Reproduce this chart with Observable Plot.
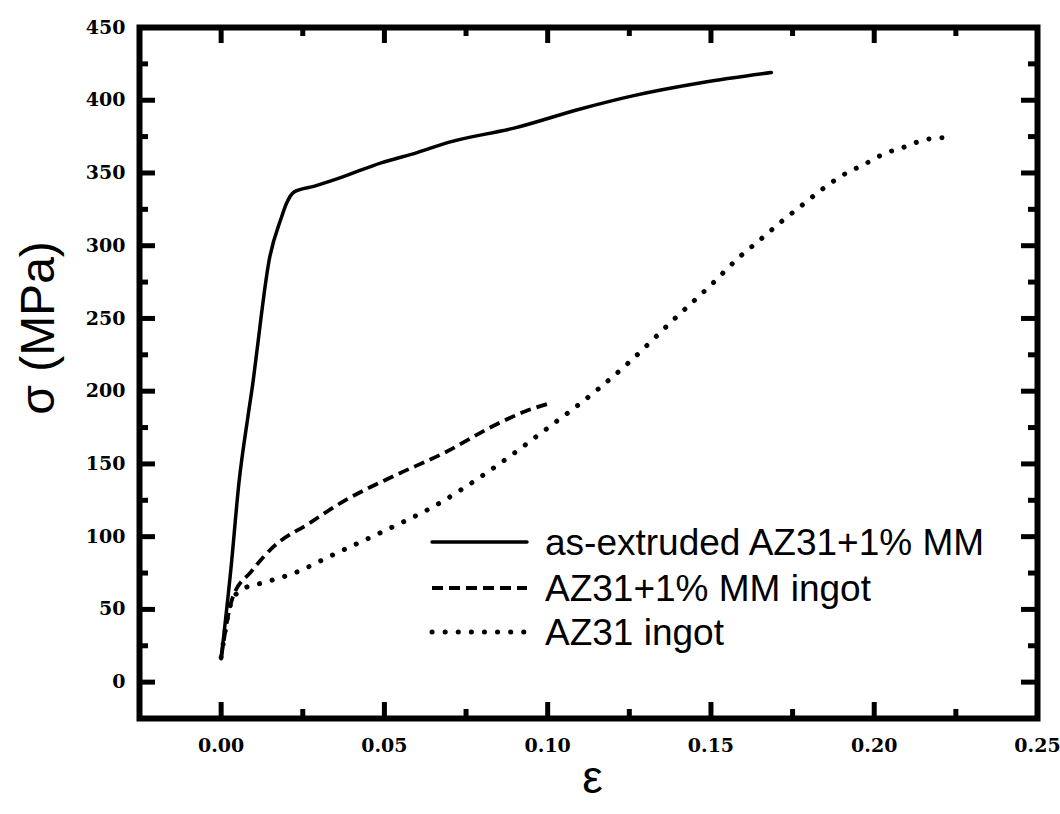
<!DOCTYPE html>
<html>
<head>
<meta charset="utf-8">
<script src="https://cdn.jsdelivr.net/npm/d3@7"></script>
<script src="https://cdn.jsdelivr.net/npm/@observablehq/plot@0.6"></script>
<style>
  html, body { margin: 0; padding: 0; background: #fff; }
  svg { display: block; }
</style>
</head>
<body>
<div id="chart"></div>
<script>
// ---- data ----
const seriesNames = ["as-extruded AZ31+1% MM", "AZ31+1% MM ingot", "AZ31 ingot"];

const extrudedStrain = [0, 0.003, 0.0055, 0.0083, 0.0098, 0.0107, 0.0147, 0.0184, 0.0200, 0.0224, 0.0286, 0.0368, 0.0490, 0.0600, 0.0696, 0.0900, 0.1100, 0.1260, 0.1470, 0.1685];
const extrudedStress = [16, 78, 138, 184, 207, 223, 290, 319, 329, 337, 341, 347, 357, 364, 371, 381, 394, 403, 412, 419];

const mmIngotStrain = [0, 0.0035, 0.0092, 0.0163, 0.0267, 0.0377, 0.0530, 0.0684, 0.0850, 0.0930, 0.1010];
const mmIngotStress = [17, 58, 76, 93.6, 108.8, 124.6, 141.8, 157.7, 178, 186, 192];

const az31IngotStrain = [0, 0.0035, 0.0075, 0.0123, 0.0224, 0.0347, 0.0500, 0.0653, 0.0807, 0.0990, 0.1156, 0.1250, 0.1380, 0.1500, 0.1586, 0.1650, 0.1718, 0.1780, 0.1840, 0.1900, 0.1970, 0.2034, 0.2095, 0.2157, 0.2230];
const az31IngotStress = [17, 57, 65, 68, 75, 88, 104, 121, 143, 173, 201.7, 220, 248, 273, 292, 304, 317, 328, 338.7, 348, 356, 363.5, 368, 373, 374.5];

const xTickValues = [0, 0.05, 0.10, 0.15, 0.20, 0.25];
const xMinorValues = [0.025, 0.075, 0.125, 0.175, 0.225];
const yTickValues = [0, 50, 100, 150, 200, 250, 300, 350, 400, 450];
const yMinorValues = [25, 75, 125, 175, 225, 275, 325, 375, 425];

const xLabel = "ε";
const yLabel = "σ (MPa)";

// ---- layout / styles ----
const W = 1060, H = 814;
const mL = 139, mR = 23, mT = 27, mB = 96;
const fw = W - mL - mR, fh = H - mT - mB;
const majorLen = 16, minorLen = 9;
const lineStyles = [
  {strokeWidth: 3.5, strokeDasharray: null, strokeLinecap: "round"},
  {strokeWidth: 3.8, strokeDasharray: "11 6", strokeLinecap: "butt"},
  {strokeWidth: 5, strokeDasharray: "0.1 13", strokeLinecap: "round"}
];

const toRows = (xs, ys) => xs.map((x, i) => ({x, y: ys[i]}));
const series = [
  toRows(extrudedStrain, extrudedStress),
  toRows(mmIngotStrain, mmIngotStress),
  toRows(az31IngotStrain, az31IngotStress)
];

const tickFont = {fontFamily: "DejaVu Serif", fontWeight: "bold", fontSize: 19};
const titleFont = "Liberation Sans";

const chart = Plot.plot({
  width: W, height: H,
  marginLeft: mL, marginRight: mR, marginTop: mT, marginBottom: mB,
  style: {background: "#fff", color: "#000", overflow: "visible"},
  x: {domain: [-0.025, 0.25]},
  y: {domain: [-25, 450]},
  marks: [
    // curves
    ...series.map((rows, i) => Plot.line(rows, {
      x: "x", y: "y", stroke: "#000", curve: "monotone-x",
      strokeLinejoin: "round", ...lineStyles[i]
    })),
    // inward ticks: left, right, bottom, top
    Plot.ruleY(yTickValues, {y: d => d, insetRight: fw - majorLen, stroke: "#000", strokeWidth: 5}),
    Plot.ruleY(yMinorValues, {y: d => d, insetRight: fw - minorLen, stroke: "#000", strokeWidth: 5}),
    Plot.ruleY(yTickValues, {y: d => d, insetLeft: fw - majorLen, stroke: "#000", strokeWidth: 5}),
    Plot.ruleY(yMinorValues, {y: d => d, insetLeft: fw - minorLen, stroke: "#000", strokeWidth: 5}),
    Plot.ruleX(xTickValues, {x: d => d, insetTop: fh - majorLen, stroke: "#000", strokeWidth: 5}),
    Plot.ruleX(xMinorValues, {x: d => d, insetTop: fh - minorLen, stroke: "#000", strokeWidth: 5}),
    Plot.ruleX(xTickValues, {x: d => d, insetBottom: fh - majorLen, stroke: "#000", strokeWidth: 5}),
    Plot.ruleX(xMinorValues, {x: d => d, insetBottom: fh - minorLen, stroke: "#000", strokeWidth: 5}),
    Plot.frame({stroke: "#000", strokeWidth: 6}),
    // tick labels
    Plot.axisX(xTickValues, {anchor: "bottom", tickSize: 0, tickPadding: 20, tickFormat: d3.format(".2f"), label: null, ...tickFont}),
    Plot.axisY(yTickValues, {anchor: "left", tickSize: 0, tickPadding: 14, tickFormat: d3.format("d"), label: null, ...tickFont}),
    // axis titles
    Plot.text([yLabel], {frameAnchor: "left", textAnchor: "middle", dx: -101, dy: -45, rotate: -90, fontSize: 48, fontFamily: titleFont, fill: "#000"}),
    Plot.text([xLabel], {frameAnchor: "bottom", textAnchor: "middle", dx: 4, dy: 74, fontSize: 46, fontFamily: titleFont, fill: "#000"})
  ]
});

document.getElementById("chart").appendChild(chart);

// ---- legend inside the plot ----
const legendX1 = 432, legendX2 = 527, legendTextX = 545;
const legendRowY = [542, 588, 632];
const svg = d3.select(chart);
const lg = svg.append("g").attr("class", "legend");
seriesNames.forEach((name, i) => {
  const st = lineStyles[i];
  lg.append("line")
    .attr("x1", legendX1).attr("x2", legendX2)
    .attr("y1", legendRowY[i]).attr("y2", legendRowY[i])
    .attr("stroke", "#000")
    .attr("stroke-width", st.strokeWidth)
    .attr("stroke-linecap", st.strokeLinecap)
    .attr("stroke-dasharray", st.strokeDasharray);
  lg.append("text")
    .attr("x", legendTextX).attr("y", legendRowY[i])
    .attr("dy", "0.36em")
    .attr("text-anchor", "start")
    .attr("font-family", titleFont)
    .attr("font-size", 37)
    .attr("fill", "#000")
    .text(name);
});
</script>
</body>
</html>
